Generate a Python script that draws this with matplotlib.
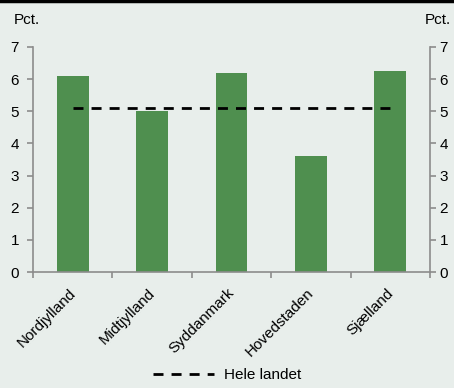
import numpy as np
import matplotlib
matplotlib.use('Agg')
import matplotlib.pyplot as plt
import matplotlib.transforms as mtransforms
from matplotlib.lines import Line2D

regions = ['Nordjylland', 'Midtjylland', 'Syddanmark', 'Hovedstaden', 'Sjælland']
values = [6.1, 5.0, 6.2, 3.6, 6.25]
national = 5.1
yticks = [0, 1, 2, 3, 4, 5, 6, 7]

bg = '#e8eeeb'
green = '#4f8f4f'
axis_gray = '#8c8c8c'
fs = 11

plt.rcParams['font.family'] = ['Liberation Sans', 'DejaVu Sans']

fig = plt.figure(figsize=(4.54, 3.88), dpi=100, facecolor=bg)
ax = fig.add_axes([33 / 454, 1 - 272 / 388, 397 / 454, 225 / 388])
ax.set_facecolor(bg)

x = np.arange(len(regions))
ax.bar(x, values, width=0.4, color=green, zorder=2)
ax.plot([x[0], x[-1]], [national, national], color='black', lw=2,
        dashes=(3.6, 2.9), zorder=3)

ax.set_xlim(-0.5, len(regions) - 0.5)
ax.set_ylim(0, 7)
ax.set_yticks(yticks)

# category ticks sit between the bars
ax.set_xticks(np.arange(-0.5, len(regions)), minor=False)
ax.set_xticklabels([])
ax.set_xticks(x, minor=True)
ax.set_xticklabels(regions, minor=True, rotation=45, ha='right',
                   rotation_mode='anchor', fontsize=fs)
ax.tick_params(axis='x', which='minor', length=0, pad=10)
ax.tick_params(axis='x', which='major', length=4, color=axis_gray, width=1.2)
ax.tick_params(axis='y', length=4, color=axis_gray, width=1.2, labelsize=fs, pad=6)
shift = mtransforms.ScaledTranslation(-4 / 100, 0, fig.dpi_scale_trans)
for lbl in ax.get_xticklabels(minor=True):
    lbl.set_transform(lbl.get_transform() + shift)

for side in ['top', 'right']:
    ax.spines[side].set_visible(False)
for side in ['left', 'bottom']:
    ax.spines[side].set_color(axis_gray)
    ax.spines[side].set_linewidth(1.2)

ax2 = ax.twinx()
ax2.set_ylim(0, 7)
ax2.set_yticks(yticks)
ax2.tick_params(axis='y', length=4, color=axis_gray, width=1.2, labelsize=fs, pad=3)
for side in ['top', 'left', 'bottom']:
    ax2.spines[side].set_visible(False)
ax2.spines['right'].set_color(axis_gray)
ax2.spines['right'].set_linewidth(1.2)

fig.text(14 / 454, 1 - 20 / 388, 'Pct.', fontsize=fs, va='center', ha='left')
fig.text(451 / 454, 1 - 20 / 388, 'Pct.', fontsize=fs, va='center', ha='right')

handle = Line2D([0], [0], color='black', lw=2, dashes=(3.6, 2.9))
fig.legend([handle], ['Hele landet'], loc='lower center', bbox_to_anchor=(0.5, -0.02),
           frameon=False, fontsize=fs, handlelength=4.0, handletextpad=0.6)

# dark rule along the top edge
fig.add_artist(Line2D([0, 1], [0.998, 0.998], color='black', lw=2.5,
                      transform=fig.transFigure))

fig.savefig('out.png', dpi=100, facecolor=bg)
